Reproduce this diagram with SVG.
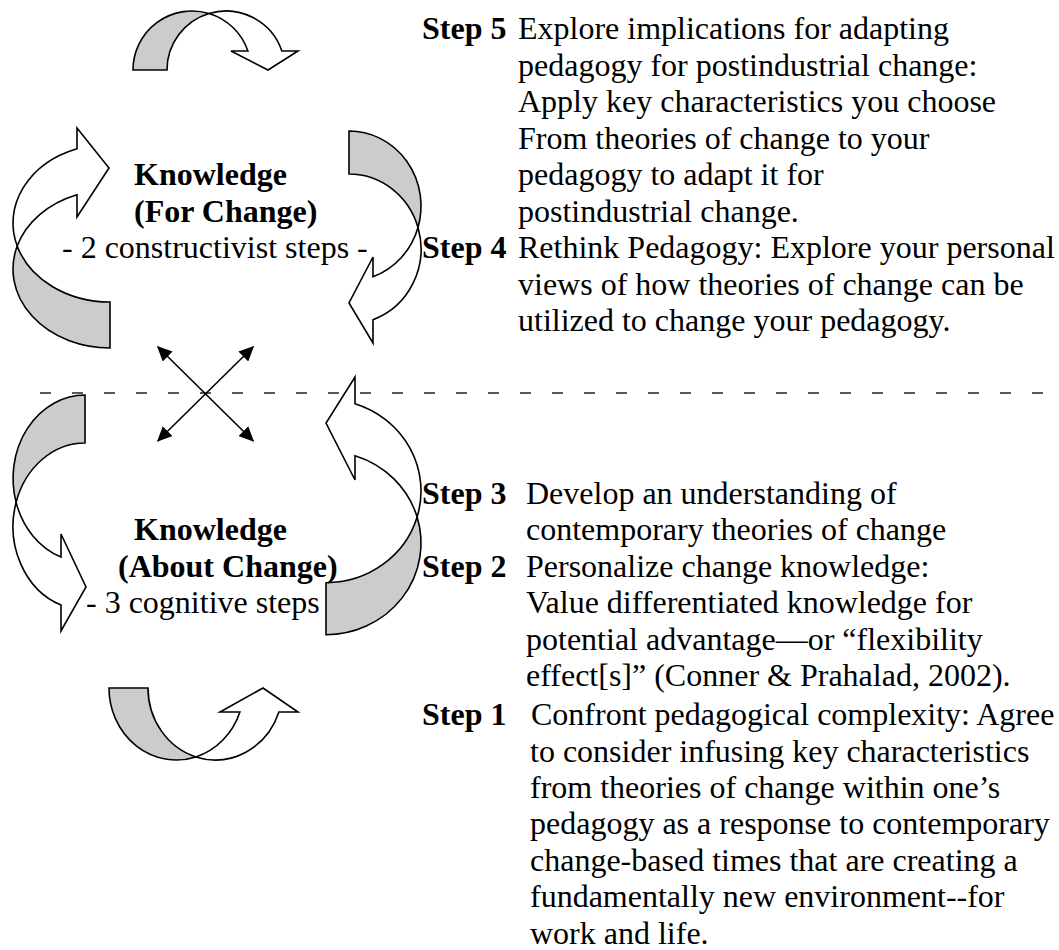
<svg xmlns="http://www.w3.org/2000/svg" width="1059" height="950" viewBox="0 0 1059 950">
  <style>
    .band { fill: #cccccc; stroke: #000; stroke-width: 1.6; stroke-linejoin: miter; }
    .front { fill: #ffffff; stroke: #000; stroke-width: 1.6; stroke-linejoin: miter; }
    .txt { font-family: "Liberation Serif", "Times New Roman", serif; font-size: 32px; fill: #000; }
    .b { font-weight: bold; }
    .conn { stroke: #000; stroke-width: 1.6; fill: none; }
    .divider { stroke: #222; stroke-width: 1.6; stroke-dasharray: 11 21; fill: none; }
  </style>
  <defs>
    <marker id="head" viewBox="0 0 15 14" markerWidth="15" markerHeight="14" refX="14" refY="7" orient="auto-start-reverse" markerUnits="userSpaceOnUse">
      <path d="M0,0 L15,7 L0,14 Z" fill="#000"/>
    </marker>
  </defs>

  <rect width="1059" height="950" fill="#ffffff"/>

  <!-- divider between the two knowledge cycles -->
  <line class="divider" x1="40" y1="393" x2="1043" y2="393"/>

  <!-- upper cycle: top curved-down arrow -->
  <g id="arrow-top">
    <path class="band" d="M133,70 A59,59 0 0 1 209,13.5 A59,59 0 0 0 167,70 Z"/>
    <path class="front" d="M209,13.5 A59,59 0 0 1 281.9,51 L298,51 L268,70 L231,51 L247.9,51 A59,59 0 0 0 209,13.5 Z"/>
  </g>

  <!-- upper cycle: left curved-right arrow -->
  <g id="arrow-upper-left">
    <path class="band" d="M110,348 A97,79 0 0 1 17.2,246 A97,79 0 0 0 110,302 Z"/>
    <path class="front" d="M17.2,246 A97,79 0 0 1 77,148.7 L77,128 L109,168 L77,217 L77,194.7 A97,79 0 0 0 17.2,246 Z"/>
  </g>

  <!-- upper cycle: right curved-left arrow -->
  <g id="arrow-upper-right">
    <path class="band" d="M349,131 A72,75 0 0 1 418,227.5 A72,75 0 0 0 349,174 Z"/>
    <path class="front" d="M418,227.5 A72,75 0 0 1 373,319.7 L373,343 L349,303 L373,257 L373,276.7 A72,75 0 0 0 418,227.5 Z"/>
  </g>

  <!-- lower cycle: left curved-right arrow -->
  <g id="arrow-lower-left">
    <path class="band" d="M85,395 A72,83.4 0 0 0 16.1,502.4 A72,83.4 0 0 1 85,443 Z"/>
    <path class="front" d="M16.1,502.4 A72,83.4 0 0 0 61,605 L61,631 L86,587 L61,534 L61,557 A72,83.4 0 0 1 16.1,502.4 Z"/>
  </g>

  <!-- lower cycle: right curved-left arrow -->
  <g id="arrow-lower-right">
    <path class="band" d="M326,634.7 A95,91.7 0 0 0 417.1,517 A95,91.7 0 0 1 326,582.7 Z"/>
    <path class="front" d="M417.1,517 A95,91.7 0 0 0 355,403.7 L355,377 L326,423 L355,480 L355,455.7 A95,91.7 0 0 1 417.1,517 Z"/>
  </g>

  <!-- lower cycle: bottom curved-up arrow -->
  <g id="arrow-bottom">
    <path class="band" d="M109,688 A67.4,72 0 0 0 195.9,756.9 A67.4,72 0 0 1 148,688 Z"/>
    <path class="front" d="M195.9,756.9 A67.4,72 0 0 0 278.9,712 L298,712 L263,688 L220,712 L239.9,712 A67.4,72 0 0 1 195.9,756.9 Z"/>
  </g>

  <!-- two-way links between the cycles -->
  <g id="connectors">
    <line class="conn" x1="157.7" y1="346.7" x2="253.3" y2="441" marker-start="url(#head)" marker-end="url(#head)"/>
    <line class="conn" x1="253.3" y1="346.7" x2="157.7" y2="441" marker-start="url(#head)" marker-end="url(#head)"/>
  </g>

  <g id="label-for-change" class="txt">
    <text class="b" x="134" y="185">Knowledge</text>
    <text class="b" x="134" y="221.5">(For Change)</text>
    <text x="62" y="258">- 2 constructivist steps -</text>
  </g>

  <g id="label-about-change" class="txt">
    <text class="b" x="134" y="540">Knowledge</text>
    <text class="b" x="118" y="577">(About Change)</text>
    <text x="86" y="613">- 3 cognitive steps</text>
  </g>

  <g id="step-5" class="txt">
    <text class="b" x="422" y="39">Step 5</text>
    <text x="518" y="39">Explore implications for adapting</text>
    <text x="518" y="75.5">pedagogy for postindustrial change:</text>
    <text x="518" y="112">Apply key characteristics you choose</text>
    <text x="518" y="148.5">From theories of change to your</text>
    <text x="518" y="185">pedagogy to adapt it for</text>
    <text x="518" y="221.5">postindustrial change.</text>
  </g>

  <g id="step-4" class="txt">
    <text class="b" x="422" y="258">Step 4</text>
    <text x="518" y="258">Rethink Pedagogy: Explore your personal</text>
    <text x="518" y="294.5">views of how theories of change can be</text>
    <text x="518" y="331">utilized to change your pedagogy.</text>
  </g>

  <g id="step-3" class="txt">
    <text class="b" x="422" y="504">Step 3</text>
    <text x="526" y="504">Develop an understanding of</text>
    <text x="526" y="540">contemporary theories of change</text>
  </g>

  <g id="step-2" class="txt">
    <text class="b" x="422" y="577">Step 2</text>
    <text x="526" y="577">Personalize change knowledge:</text>
    <text x="526" y="613">Value differentiated knowledge for</text>
    <text x="526" y="650">potential advantage—or “flexibility</text>
    <text x="526" y="686">effect[s]” (Conner &amp; Prahalad, 2002).</text>
  </g>

  <g id="step-1" class="txt">
    <text class="b" x="422" y="725">Step 1</text>
    <text x="531" y="725">Confront pedagogical complexity: Agree</text>
    <text x="530" y="762">to consider infusing key characteristics</text>
    <text x="530" y="797.5">from theories of change within one’s</text>
    <text x="530" y="834">pedagogy as a response to contemporary</text>
    <text x="530" y="870.5">change-based times that are creating a</text>
    <text x="530" y="907">fundamentally new environment--for</text>
    <text x="530" y="943.5">work and life.</text>
  </g>
</svg>
